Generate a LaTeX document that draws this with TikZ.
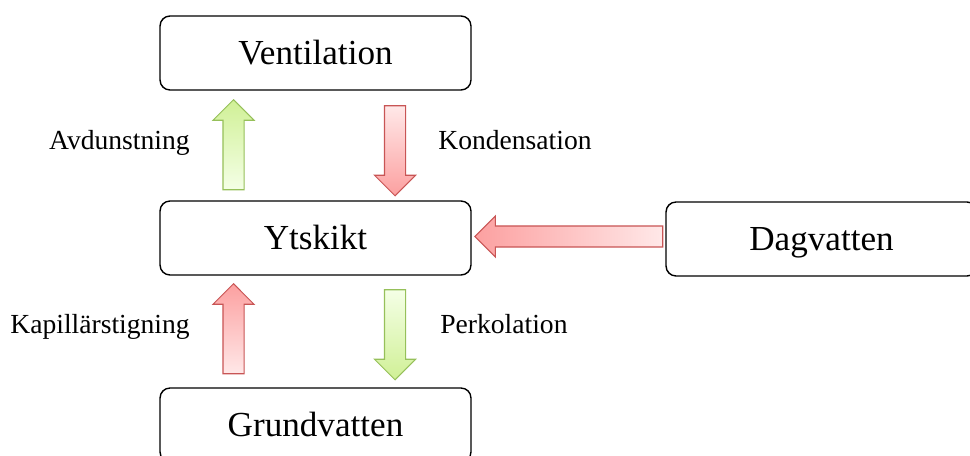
\documentclass[tikz,border=0pt]{standalone}
\usepackage{fontspec}
\setmainfont{Liberation Serif}
\usetikzlibrary{shapes.arrows,calc}
\definecolor{redline}{RGB}{200,85,85}
\definecolor{redtip}{RGB}{252,160,160}
\definecolor{redtail}{RGB}{255,232,232}
\definecolor{greenline}{RGB}{150,192,90}
\definecolor{greentip}{RGB}{208,240,150}
\definecolor{greentail}{RGB}{244,255,230}
\begin{document}
\begin{tikzpicture}[x=0.02cm, y=0.02cm]
            \tikzstyle{box}=[draw, black, line width=0.8pt, rounded corners=0.2cm, minimum width=6.22cm, minimum height=1.48cm, text height=18pt, text depth=4.4pt, font=\fontsize{20}{24}\selectfont]
            \tikzstyle{flow}=[single arrow, inner sep=0.2cm, single arrow head extend=0.2cm, minimum height=1.8cm, line width=0.6pt]
            \tikzstyle{lbl}=[inner sep=0pt, text height=13.5pt, text depth=3.3pt, font=\fontsize{15.7}{19}\selectfont]
            \useasboundingbox (0,0) rectangle (970,-456);
            \node [box] (vent) at (315.5,-53) {Ventilation};
            \node [box] (yts) at (315.5,-238) {Ytskikt};
            \node [box] (grund) at (315.5,-425) {Grundvatten};
            \node [box] (dag) at (821.5,-239) {Dagvatten};
            \node [flow, shape border rotate=90, draw=greenline, top color=greentip, bottom color=greentail] (avd) at ($(vent.south)!0.5!(yts.north) + (-82,-4.5)$) {};
            \node [flow, shape border rotate=270, draw=redline, top color=redtail, bottom color=redtip] (kond) at ($(vent.south)!0.5!(yts.north) + (79.5,0)$) {};
            \node [flow, shape border rotate=90, draw=redline, top color=redtip, bottom color=redtail] (kap) at ($(yts.south)!0.5!(grund.north) + (-82,-2.5)$) {};
            \node [flow, shape border rotate=270, draw=greenline, top color=greentail, bottom color=greentip] (perk) at ($(yts.south)!0.5!(grund.north) + (79.5,2)$) {};
            \node [flow, shape border rotate=180, minimum height=3.76cm, draw=redline, left color=redtip, right color=redtail] (dagflow) at ($(yts.east)!0.5!(dag.west) + (5.5,2)$) {};
            \node [lbl, anchor=east] (avdtext) at (190,-141) {Avdunstning};
            \node [lbl, anchor=west] (kondtext) at (438,-141) {Kondensation};
            \node [lbl, anchor=east] (kaptext) at (190,-325) {Kapillärstigning};
            \node [lbl, anchor=west] (perktext) at (440,-325) {Perkolation};
        \end{tikzpicture}
\end{document}
